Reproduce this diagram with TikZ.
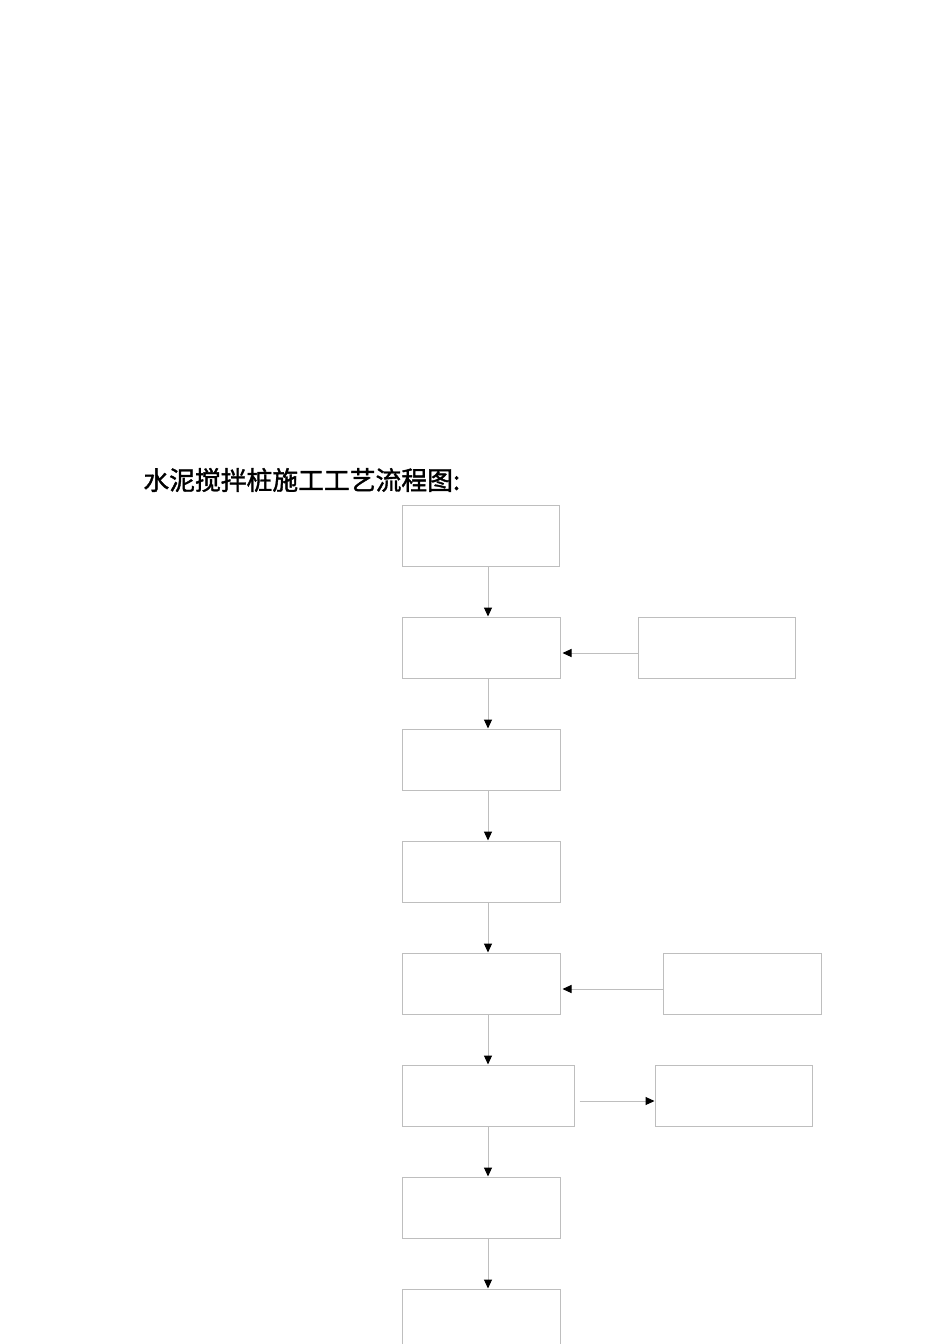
\documentclass[tikz,border=0pt]{standalone}
\usepackage{fontspec}
\newfontfamily\cjk[FakeBold=1.5]{Noto Sans CJK SC}
\usetikzlibrary{arrows.meta}
\definecolor{boxgray}{RGB}{190,190,190}
\begin{document}
\begin{tikzpicture}[x=0.5pt, y=-0.5pt]
\tikzstyle{box}=[rectangle, draw=boxgray, line width=0.5pt, inner sep=0pt, minimum width=78.5pt, minimum height=30.5pt]
\tikzstyle{flow}=[draw=boxgray, line width=0.5pt, -{Triangle[black, length=4.5pt, width=4pt]}]
\useasboundingbox (0,0) rectangle (950,1344);
\clip (0,0) rectangle (950,1344);
\node[anchor=west, inner sep=0pt] (title) at (143,480) {\cjk\fontsize{12.9}{15}\selectfont 水泥搅拌桩施工工艺流程图:};
\node[box] (a) at (480.5,535.5) {};
\node[box, minimum width=79pt] (b) at (481,647.5) {};
\node[box] (r1) at (716.5,647.5) {};
\node[box, minimum width=79pt] (c) at (481,759.5) {};
\node[box, minimum width=79pt] (d) at (481,871.5) {};
\node[box, minimum width=79pt] (e) at (481,983.5) {};
\node[box, minimum width=79pt] (r2) at (742,983.5) {};
\node[box, minimum width=86pt] (f) at (488,1095.5) {};
\node[box] (r3) at (733.5,1095.5) {};
\node[box, minimum width=79pt] (g) at (481,1207.5) {};
\node[box, minimum width=79pt] (h) at (481,1319.5) {};
\foreach \i/\j in {a/b,b/c,c/d,d/e,e/f,f/g,g/h}{\draw[flow] (\i.south -| f.center) -- (\j.north -| f.center);}
\draw[flow, shorten >=1pt] ([yshift=-2.75pt]r1.west) -- ([yshift=-2.75pt]r1.west -| b.east);
\draw[flow, shorten >=1pt] ([yshift=-2.75pt]r2.west) -- ([yshift=-2.75pt]r2.west -| e.east);
\draw[flow, shorten <=2.5pt] ([yshift=-2.75pt]f.east) -- ([yshift=-2.75pt]f.east -| r3.west);
\end{tikzpicture}
\end{document}
